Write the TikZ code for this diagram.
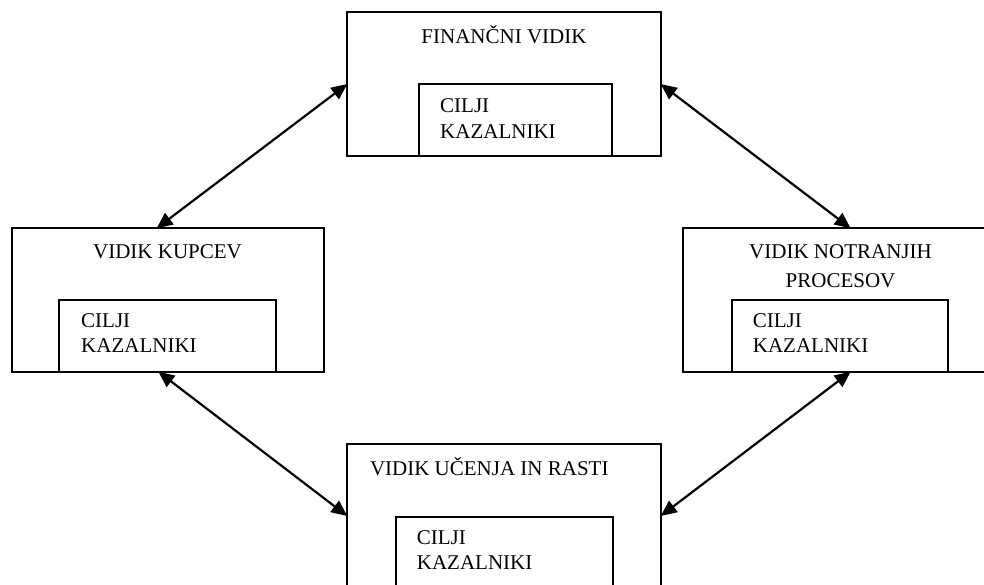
\documentclass[tikz,border=0pt]{standalone}
\usepackage{fontspec}
\setmainfont{Liberation Serif}
\usetikzlibrary{arrows.meta,calc}
\begin{document}
\begin{tikzpicture}[x=1pt,y=-1pt,
  outerbox/.style={draw,line width=2.2pt,minimum width=313.4pt,minimum height=143.4pt,inner sep=0pt,outer sep=0pt},
  innerbox/.style={draw,line width=2.2pt,minimum height=71.5pt,inner sep=0pt,outer sep=0pt},
  lbl/.style={inner sep=0pt,font=\fontsize{21}{25}\selectfont},
  arr/.style={line width=2.2pt,{Triangle[length=16pt,width=14pt]}-{Triangle[length=16pt,width=14pt]}}]
\useasboundingbox (0,0) rectangle (984,584);
\clip (0,0) rectangle (984,584);
\fill[white] (0,0) rectangle (984,584);
% outer boxes
\node[outerbox] (top) at (504,84) {};
\node[outerbox,minimum width=312.3pt] (lb) at (167.85,300) {};
\node[outerbox] (rb) at (840,300) {};
\node[outerbox] (bot) at (504,516) {};
% inner boxes
\node[innerbox,minimum width=193pt,minimum height=71.4pt] (topin) at (515.8,120) {};
\node[innerbox,minimum width=216.7pt] (lbin) at (167.7,335.85) {};
\node[innerbox,minimum width=216.6pt] (rbin) at (840,335.85) {};
\node[innerbox,minimum width=217pt] (botin) at (504.2,552.4) {};
% titles
\node[lbl,anchor=base] (toptitle) at (504,43) {FINANČNI VIDIK};
\node[lbl,anchor=base] (lbtitle) at (167.5,258.3) {VIDIK KUPCEV};
\node[lbl,anchor=base] (rbtitle1) at (840.5,258.3) {VIDIK NOTRANJIH};
\node[lbl,anchor=base] (rbtitle2) at (840.5,287.7) {PROCESOV};
\node[lbl,anchor=base] (bottitle) at (489.3,475.7) {VIDIK UČENJA IN RASTI};
% inner texts
\node[lbl,anchor=base west] (topc) at (440,112) {CILJI};
\node[lbl,anchor=base west] (topk) at (440,138) {KAZALNIKI};
\node[lbl,anchor=base west] (lbc) at (81,327.3) {CILJI};
\node[lbl,anchor=base west] (lbk) at (81,352.7) {KAZALNIKI};
\node[lbl,anchor=base west] (rbc) at (752.7,327.3) {CILJI};
\node[lbl,anchor=base west] (rbk) at (752.7,352.7) {KAZALNIKI};
\node[lbl,anchor=base west] (botc) at (416.7,544) {CILJI};
\node[lbl,anchor=base west] (botk) at (416.7,569.3) {KAZALNIKI};
% arrows
\draw[arr] (top.west) -- ($(lb.north)+(-11.2,0)$);
\draw[arr] (top.east) -- ($(rb.north)+(10.7,0)$);
\draw[arr] ($(lb.south)+(-9.5,0)$) -- (bot.west);
\draw[arr] ($(rb.south)+(10.7,0)$) -- (bot.east);
\end{tikzpicture}
\end{document}
